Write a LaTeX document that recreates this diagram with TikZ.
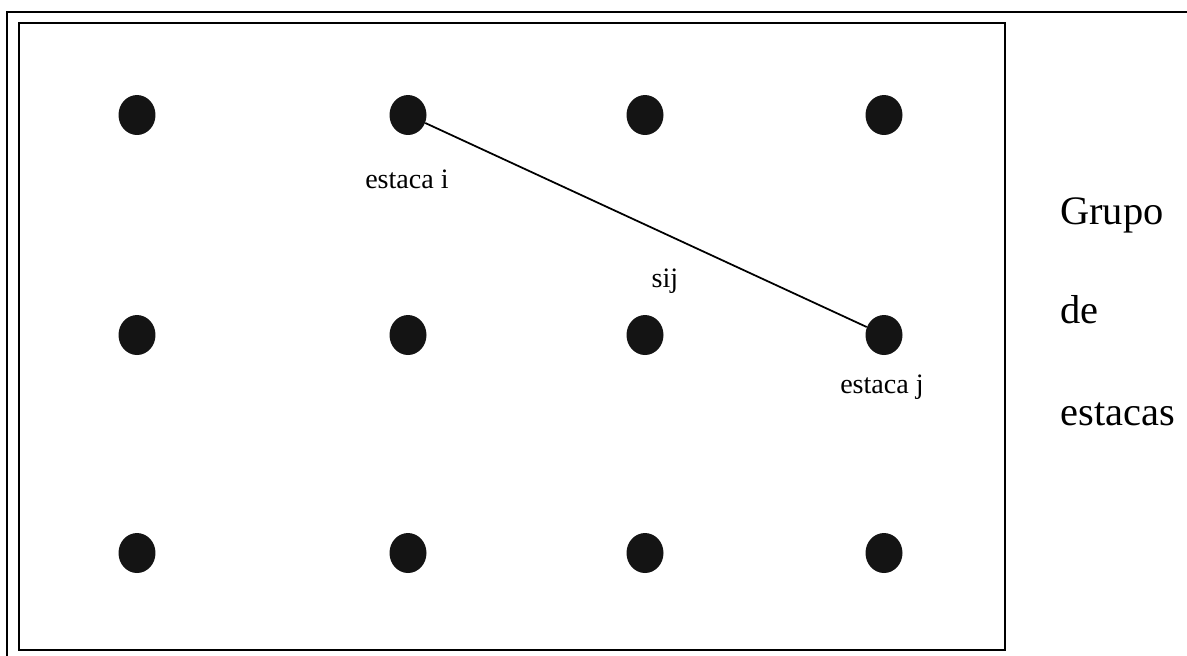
\documentclass[tikz,border=0pt]{standalone}
\usepackage{fontspec}
\setmainfont{Liberation Serif}
\usetikzlibrary{positioning,shapes.geometric}

\begin{document}
\begin{tikzpicture}[x=0.02cm, y=-0.02cm,
    estaca/.style={ellipse, fill=black!92, minimum width=0.74cm, minimum height=0.8cm, inner sep=0pt},
    etiqueta/.style={font=\fontsize{16}{18}\selectfont, anchor=base, inner sep=0pt},
    grupo/.style={font=\fontsize{23}{26}\selectfont, anchor=base west, inner sep=0pt},
    enlace/.style={line width=1pt}
]
    \useasboundingbox (0,0) rectangle (1187,656);
    % marco
    \draw[line width=0.8pt] (7,656) -- (7,12) -- (1187,12);
    \draw[line width=1.4pt] (19,23) rectangle (1005,650);

    % estacas
    \foreach \c/\x in {1/137,2/408,3/645,4/884} {
        \foreach \f/\y in {1/115,2/335,3/553} {
            \node[estaca] (e\f\c) at (\x,\y) {};
        }
    }

    \draw[enlace] (e12) -- (e24);

    \node[etiqueta] (li) at (407,188) {estaca i};
    \node[etiqueta] (lij) at (665,287) {sij};
    \node[etiqueta] (lj) at (882,393) {estaca j};

    \node[grupo] (g1) at (1060,224) {Grupo};
    \node[grupo] (g2) at (1060,323) {de};
    \node[grupo] (g3) at (1060,425) {estacas};
\end{tikzpicture}
\end{document}
